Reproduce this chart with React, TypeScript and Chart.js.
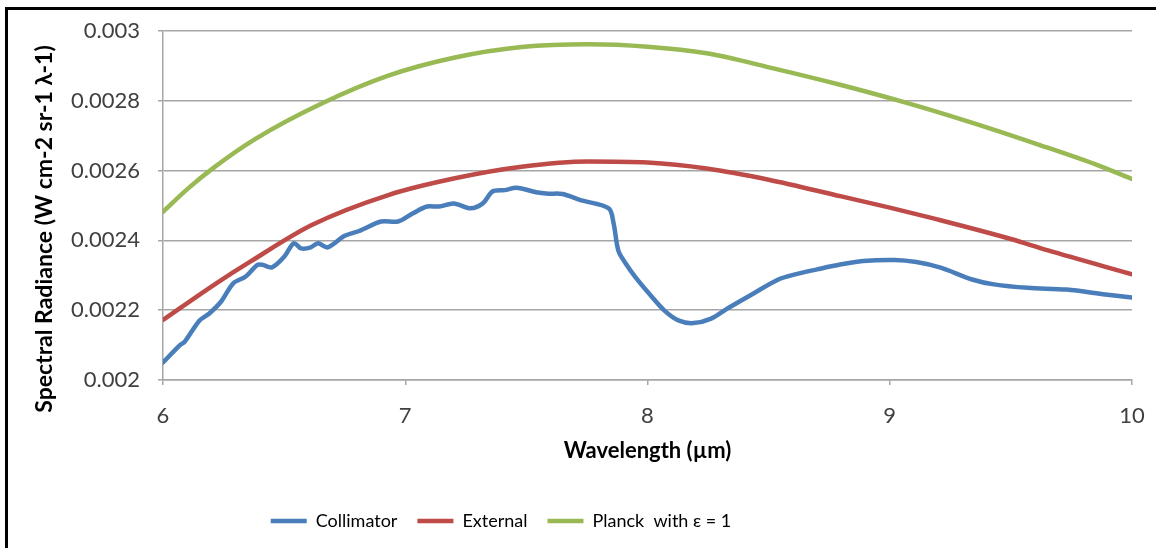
import React, { useEffect, useRef } from "react";
import { Chart, registerables } from "chart.js";

Chart.register(...registerables);

// ---------- data ----------
const seriesNames = ["Collimator", "External", "Planck  with ε = 1"];

const collimatorWavelengths = [
  6.0, 6.07, 6.09, 6.15, 6.19, 6.24, 6.29, 6.34, 6.39, 6.41, 6.45, 6.5, 6.54, 6.57, 6.61, 6.64, 6.68,
  6.75, 6.81, 6.9, 6.97, 7.03, 7.09, 7.14, 7.2, 7.27, 7.32, 7.36, 7.41, 7.46, 7.54, 7.59, 7.65, 7.72,
  7.84, 7.86, 7.88, 7.91, 7.95, 8.01, 8.07, 8.13, 8.19, 8.26, 8.335, 8.43, 8.54, 8.605, 8.7, 8.795,
  8.89, 9.02, 9.11, 9.21, 9.34, 9.43, 9.57, 9.73, 9.89, 10.0,
];
const collimatorRadiance = [
  0.00205, 0.0021, 0.00211, 0.00217, 0.00219, 0.002225, 0.002277, 0.002296, 0.00233, 0.00233,
  0.002323, 0.002353, 0.002392, 0.002377, 0.00238, 0.002392, 0.00238, 0.002413, 0.002427, 0.002454,
  0.002454, 0.002477, 0.002497, 0.002497, 0.002506, 0.002492, 0.002506, 0.00254, 0.002544, 0.002551,
  0.002538, 0.002534, 0.002533, 0.002516, 0.002492, 0.002449, 0.00237, 0.002334, 0.002295, 0.002245,
  0.002199, 0.00217, 0.002163, 0.002175, 0.002207, 0.002245, 0.002288, 0.002302, 0.002317, 0.002331,
  0.002341, 0.002344, 0.002338, 0.002322, 0.002288, 0.002274, 0.002264, 0.002259, 0.002245, 0.002236,
];

const externalWavelengths = [
  6.0, 6.22, 6.36, 6.614, 6.93, 7.205, 7.48, 7.756, 8.0, 8.244, 8.5, 8.8, 9.0, 9.18, 9.5, 9.65, 10.0,
];
const externalRadiance = [
  0.002172, 0.002277, 0.002339, 0.002444, 0.00253, 0.002578, 0.002611, 0.002626, 0.002623, 0.002606,
  0.002574, 0.002526, 0.002494, 0.002463, 0.002404, 0.002372, 0.002303,
];

const planckWavelengths = [
  6.0, 6.104, 6.207, 6.38, 6.655, 6.93, 7.205, 7.48, 7.756, 8.0, 8.244, 8.519, 8.795, 9.07, 9.345, 9.62,
  9.868, 10.0,
];
const planckRadiance = [
  0.002482, 0.002549, 0.002607, 0.00269, 0.002792, 0.002872, 0.002924, 0.002954, 0.002962, 0.002955,
  0.002936, 0.002893, 0.002846, 0.002794, 0.002736, 0.002673, 0.002613, 0.002576,
];

const xTickValues = [6, 7, 8, 9, 10];
const xTickLabels = ["6", "7", "8", "9", "10"];
const yTickValues = [0.002, 0.0022, 0.0024, 0.0026, 0.0028, 0.003];
const yTickLabels = ["0.002", "0.0022", "0.0024", "0.0026", "0.0028", "0.003"];

const xAxisTitle = "Wavelength (µm)";
const yAxisTitle = "Spectral Radiance (W cm-2 sr-1 λ-1)";

// ---------- styles ----------
const colors = ["#4a7ebb", "#be4b48", "#98b954"];
const gridColor = "#a6a6a6";
const tickColor = "#404040";
const fontFamily = "Lato, 'Open Sans', sans-serif";
const WIDTH = 1156;
const HEIGHT = 548;

const toPoints = (xs: number[], ys: number[]) => xs.map((x, i) => ({ x, y: ys[i] }));

const yTitlePlugin = {
  id: "yTitleCustom",
  afterDraw(chart: any) {
    const ctx = chart.ctx;
    ctx.save();
    ctx.translate(45, 229);
    ctx.rotate(-Math.PI / 2);
    ctx.font = `bold 23px ${fontFamily}`;
    ctx.fillStyle = "#000";
    ctx.textAlign = "center";
    ctx.textBaseline = "middle";
    ctx.fillText(yAxisTitle, 0, 0);
    ctx.restore();
  },
};

const legendShiftPlugin = {
  id: "legendShift",
  afterLayout(chart: any) {
    const lg = chart.legend;
    if (!lg) return;
    const shift = 501 - (lg.left + lg.right) / 2;
    lg.left += shift;
    lg.right += shift;
  },
};

export default function App() {
  const canvasRef = useRef<HTMLCanvasElement | null>(null);

  useEffect(() => {
    if (!canvasRef.current) return;
    const seriesX = [collimatorWavelengths, externalWavelengths, planckWavelengths];
    const seriesY = [collimatorRadiance, externalRadiance, planckRadiance];
    const chart = new Chart(canvasRef.current, {
      type: "line",
      data: {
        datasets: seriesNames.map((name, i) => ({
          label: name,
          data: toPoints(seriesX[i], seriesY[i]),
          borderColor: colors[i],
          backgroundColor: colors[i],
          borderWidth: 4.5,
          borderCapStyle: "round",
          borderJoinStyle: "round",
          pointRadius: 0,
          fill: false,
          tension: i === 0 ? 0.3 : 0.4,
          cubicInterpolationMode: i === 0 ? "default" : "monotone",
        })),
      },
      options: {
        animation: false,
        responsive: false,
        maintainAspectRatio: false,
        devicePixelRatio: 1,
        events: [],
        layout: { padding: { left: 10, right: 24, top: 31, bottom: 8 } },
        plugins: {
          legend: {
            position: "bottom",
            labels: {
              usePointStyle: true,
              pointStyle: "line",
              pointStyleWidth: 36,
              padding: 20,
              color: "#000",
              font: { family: fontFamily, size: 18 },
            },
          },
          tooltip: { enabled: false },
          title: { display: false },
        },
        scales: {
          x: {
            type: "linear",
            min: 6,
            max: 10,
            afterBuildTicks: (scale: any) => {
              scale.ticks = xTickValues.map((v) => ({ value: v }));
            },
            afterFit: (scale: any) => {
              scale.height = 112;
              scale.paddingLeft = 0;
              scale.paddingRight = 0;
            },
            ticks: {
              callback: (_v: any, idx: number) => xTickLabels[idx],
              padding: 18,
              color: tickColor,
              font: { family: fontFamily, size: 22 },
              maxRotation: 0,
            },
            grid: {
              drawOnChartArea: false,
              drawTicks: true,
              tickLength: 5,
              color: gridColor,
              lineWidth: 1.5,
            },
            border: { display: true, color: gridColor, width: 1.5 },
            title: {
              display: true,
              text: xAxisTitle,
              color: "#000",
              font: { family: fontFamily, size: 22, weight: "bold" },
              padding: { top: 0, bottom: 28 },
            },
          },
          y: {
            type: "linear",
            min: 0.002,
            max: 0.003,
            afterBuildTicks: (scale: any) => {
              scale.ticks = yTickValues.map((v) => ({ value: v }));
            },
            afterFit: (scale: any) => {
              scale.width = 153;
              scale.paddingTop = 0;
              scale.paddingBottom = 0;
            },
            ticks: {
              callback: (_v: any, idx: number) => yTickLabels[idx],
              padding: 18,
              color: tickColor,
              font: { family: fontFamily, size: 22 },
            },
            grid: {
              drawOnChartArea: true,
              drawTicks: true,
              tickLength: 5,
              color: gridColor,
              lineWidth: 1.5,
            },
            border: { display: true, color: gridColor, width: 1.5 },
          },
        },
      },
      plugins: [yTitlePlugin, legendShiftPlugin],
    } as any);
    return () => chart.destroy();
  }, []);

  return (
    <div
      style={{
        position: "fixed",
        left: 0,
        top: 0,
        width: WIDTH,
        height: HEIGHT,
        background: "#fff",
        overflow: "hidden",
      }}
    >
      <canvas
        ref={canvasRef}
        width={WIDTH}
        height={HEIGHT}
        style={{ display: "block", width: WIDTH, height: HEIGHT }}
      />
      <div
        style={{
          position: "absolute",
          left: 5,
          top: 7,
          width: 1200,
          height: 600,
          borderTop: "3px solid #000",
          borderLeft: "3px solid #000",
          pointerEvents: "none",
        }}
      />
    </div>
  );
}
